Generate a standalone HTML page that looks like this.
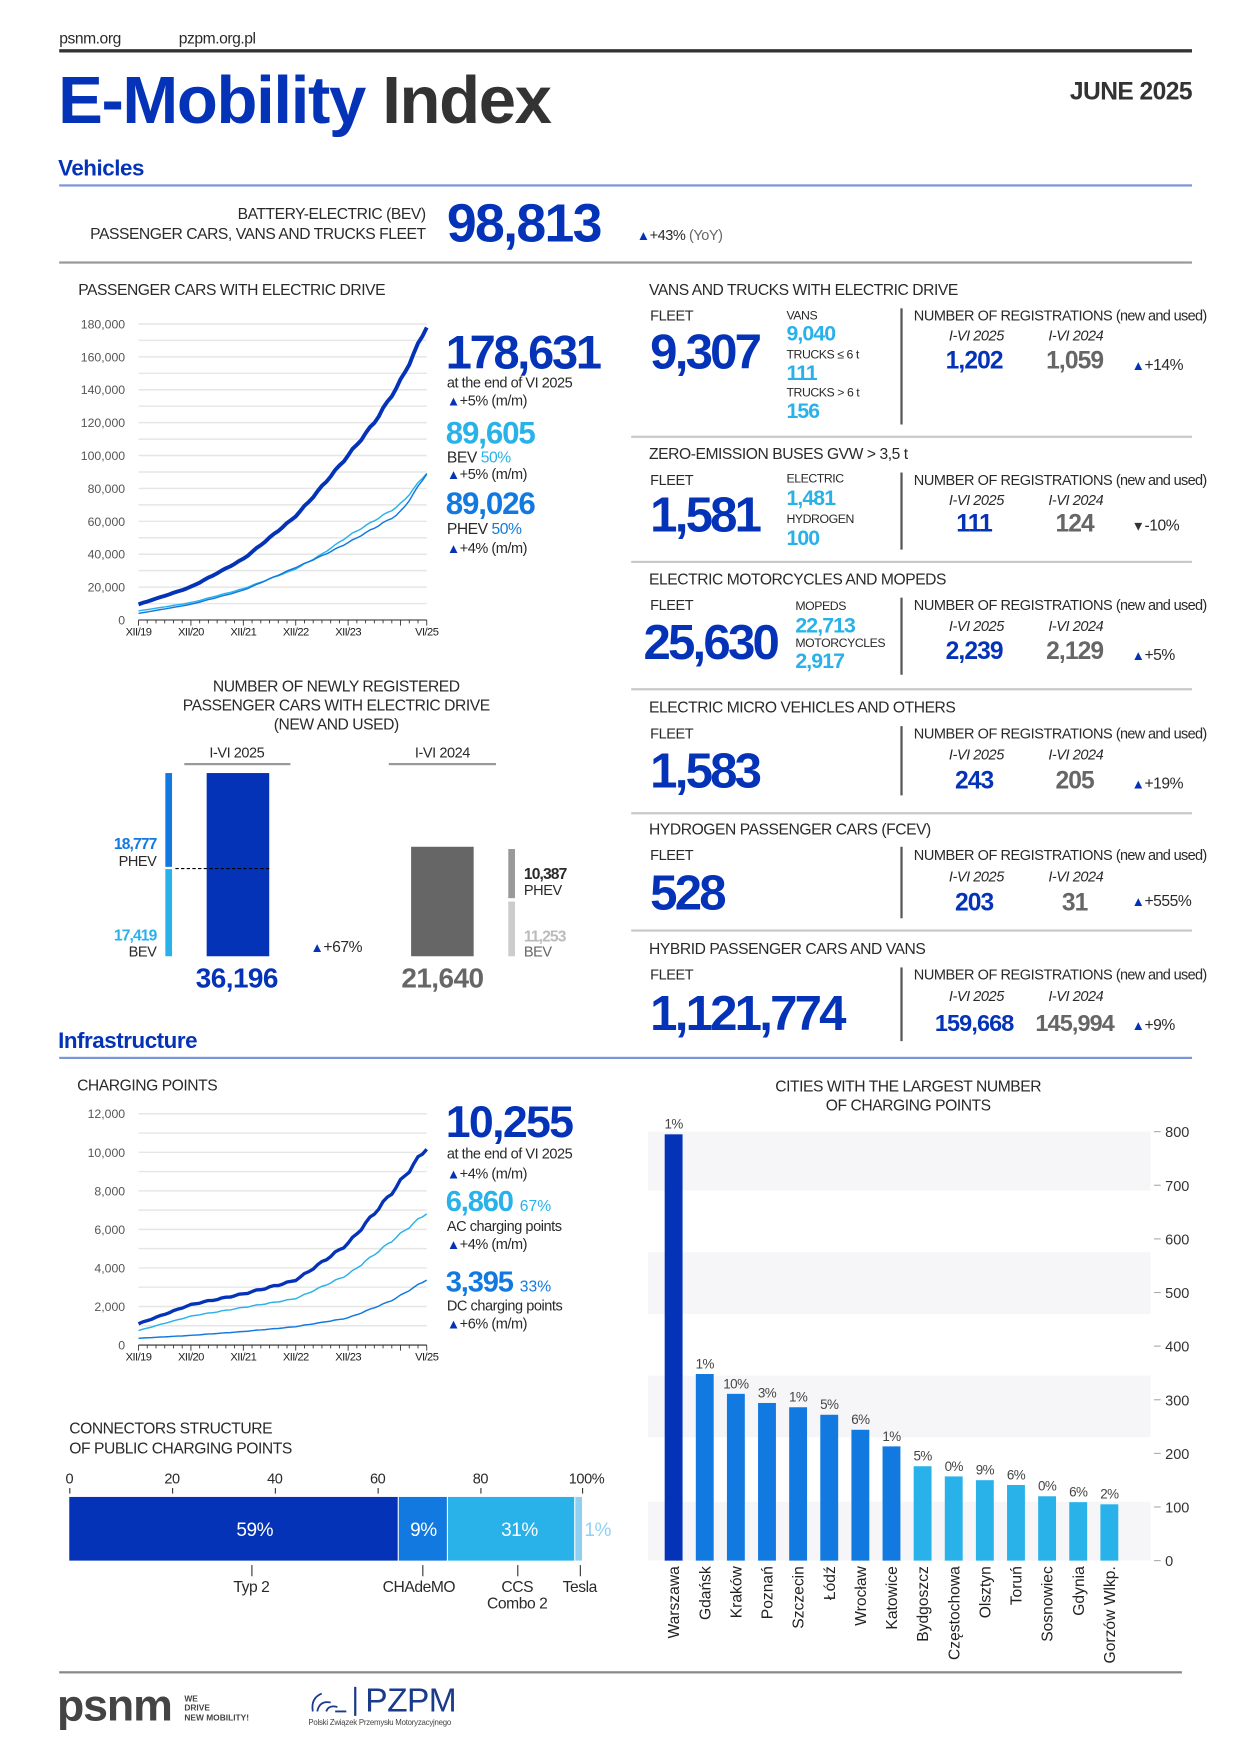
<!DOCTYPE html>
<html><head><meta charset="utf-8">
<style>
html,body{margin:0;padding:0;background:#fff;}
body{width:1240px;height:1754px;overflow:hidden;position:relative;}
#w{position:absolute;left:0;top:0;width:1110px;height:1570px;transform:scale(1.11712);transform-origin:0 0;font-family:"Liberation Sans",sans-serif;color:#2a2a2a;}
.t{position:absolute;white-space:nowrap;line-height:1;letter-spacing:-0.4px;}
.b{font-weight:bold;}
.blue{color:#0433b8;}
.mid{color:#1179e0;}
.lt{color:#29b1ea;}
.gr{color:#666;}
.hl{position:absolute;height:2px;background:#c9c9c9;}
.vl{position:absolute;width:1.5px;background:#555;}
.num{font-weight:bold;letter-spacing:-2.5px;}
.it{font-style:italic;}
.tri{font-size:12px;color:#0433b8;}
</style></head><body><div id="w">

<div class="t" style="left:53px;top:27px;font-size:14px;">psnm.org</div>
<div class="t" style="left:160px;top:27px;font-size:14px;">pzpm.org.pl</div>
<div style="position:absolute;left:53px;top:44px;width:1014px;height:3px;background:#333"></div>
<div class="t b" style="left:52px;top:60px;font-size:60px;letter-spacing:-1.2px;"><span class="blue">E-Mobility</span> <span style="color:#333">Index</span></div>
<div class="t b" style="right:43px;top:71px;font-size:22px;color:#333;letter-spacing:-0.5px;">JUNE 2025</div>

<div class="t b blue" style="left:52px;top:141px;font-size:20px;">Vehicles</div>
<div style="position:absolute;left:53px;top:165px;width:1014px;height:2px;background:#7b95dc"></div>
<div class="t" style="right:729px;top:184px;font-size:14px;text-align:right;">BATTERY-ELECTRIC (BEV)</div>
<div class="t" style="right:729px;top:202px;font-size:14px;text-align:right;">PASSENGER CARS, VANS AND TRUCKS FLEET</div>
<div class="t num blue" style="left:400px;top:177px;font-size:48px;letter-spacing:-1.5px;">98,813</div>
<div class="t" style="left:570px;top:204px;font-size:13px;"><span class="tri">▲</span>+43% <span class="gr">(YoY)</span></div>
<div style="position:absolute;left:53px;top:234px;width:1014px;height:2px;background:#999"></div>

<div class="t" style="left:70px;top:252px;font-size:14px;">PASSENGER CARS WITH ELECTRIC DRIVE</div>
<svg id="pc" style="position:absolute;left:0;top:0" width="560" height="600"></svg>
<div class="t num blue" style="left:399px;top:295px;font-size:42px;letter-spacing:-2px;">178,631</div>
<div class="t" style="left:400px;top:336px;font-size:13px;">at the end of VI 2025</div>
<div class="t" style="left:400px;top:352px;font-size:13px;"><span class="tri">▲</span>+5% (m/m)</div>
<div class="t num lt" style="left:399px;top:374px;font-size:28px;letter-spacing:-1px;">89,605</div>
<div class="t" style="left:400px;top:402px;font-size:14px;">BEV <span class="lt">50%</span></div>
<div class="t" style="left:400px;top:418px;font-size:13px;"><span class="tri">▲</span>+5% (m/m)</div>
<div class="t num mid" style="left:399px;top:437px;font-size:28px;letter-spacing:-1px;">89,026</div>
<div class="t" style="left:400px;top:466px;font-size:14px;">PHEV <span class="mid">50%</span></div>
<div class="t" style="left:400px;top:484px;font-size:13px;"><span class="tri">▲</span>+4% (m/m)</div>

<div class="t" style="left:151px;width:300px;text-align:center;top:607px;font-size:14px;">NUMBER OF NEWLY REGISTERED</div>
<div class="t" style="left:151px;width:300px;text-align:center;top:624px;font-size:14px;">PASSENGER CARS WITH ELECTRIC DRIVE</div>
<div class="t" style="left:151px;width:300px;text-align:center;top:641px;font-size:14px;">(NEW AND USED)</div>
<div class="t" style="left:162px;width:100px;text-align:center;top:667px;font-size:13px;">I-VI 2025</div>
<div style="position:absolute;left:165px;top:683px;width:95px;height:2px;background:#999"></div>
<div class="t" style="left:346px;width:100px;text-align:center;top:667px;font-size:13px;">I-VI 2024</div>
<div style="position:absolute;left:348px;top:683px;width:96px;height:2px;background:#999"></div>
<div style="position:absolute;left:185px;top:692px;width:56px;height:164px;background:#0433b8"></div>
<div style="position:absolute;left:148px;top:692px;width:6px;height:84px;background:#1179e0"></div>
<div style="position:absolute;left:148px;top:778px;width:6px;height:78px;background:#29b1ea"></div>
<div style="position:absolute;left:157px;top:777px;width:84px;border-top:1px dashed #000"></div>
<div class="t b mid" style="right:970px;top:748px;font-size:14px;letter-spacing:-0.8px;">18,777</div>
<div class="t" style="right:970px;top:764px;font-size:13px;">PHEV</div>
<div class="t b lt" style="right:970px;top:830px;font-size:14px;letter-spacing:-0.8px;">17,419</div>
<div class="t" style="right:970px;top:845px;font-size:13px;">BEV</div>
<div class="t num blue" style="left:162px;width:100px;text-align:center;top:864px;font-size:25px;letter-spacing:-0.5px;">36,196</div>
<div class="t" style="left:278px;top:840px;font-size:14px;"><span class="tri">▲</span>+67%</div>
<div style="position:absolute;left:368px;top:758px;width:56px;height:98px;background:#666"></div>
<div style="position:absolute;left:455px;top:760px;width:6px;height:44px;background:#999"></div>
<div style="position:absolute;left:455px;top:807px;width:6px;height:49px;background:#ccc"></div>
<div class="t b" style="left:469px;top:775px;font-size:14px;letter-spacing:-0.8px;">10,387</div>
<div class="t" style="left:469px;top:790px;font-size:13px;">PHEV</div>
<div class="t b" style="left:469px;top:831px;font-size:14px;color:#bbb;letter-spacing:-0.8px;">11,253</div>
<div class="t gr" style="left:469px;top:845px;font-size:13px;">BEV</div>
<div class="t num gr" style="left:346px;width:100px;text-align:center;top:864px;font-size:25px;letter-spacing:-0.5px;">21,640</div>

<div id="rp"></div>

<div class="t b blue" style="left:52px;top:922px;font-size:20px;">Infrastructure</div>
<div style="position:absolute;left:53px;top:946px;width:1014px;height:2px;background:#7b95dc"></div>
<div class="t" style="left:69px;top:964px;font-size:14px;">CHARGING POINTS</div>
<svg id="cp" style="position:absolute;left:0;top:0" width="560" height="1300"></svg>
<div class="t num blue" style="left:399px;top:985px;font-size:40px;letter-spacing:-1.5px;">10,255</div>
<div class="t" style="left:400px;top:1026px;font-size:13px;">at the end of VI 2025</div>
<div class="t" style="left:400px;top:1044px;font-size:13px;"><span class="tri">▲</span>+4% (m/m)</div>
<div class="t num lt" style="left:399px;top:1062px;font-size:26px;letter-spacing:-1px;">6,860 <span style="font-size:14px;font-weight:normal;letter-spacing:0">67%</span></div>
<div class="t" style="left:400px;top:1091px;font-size:13px;">AC charging points</div>
<div class="t" style="left:400px;top:1107px;font-size:13px;"><span class="tri">▲</span>+4% (m/m)</div>
<div class="t num mid" style="left:399px;top:1134px;font-size:26px;letter-spacing:-1px;">3,395 <span style="font-size:14px;font-weight:normal;letter-spacing:0">33%</span></div>
<div class="t" style="left:400px;top:1162px;font-size:13px;">DC charging points</div>
<div class="t" style="left:400px;top:1178px;font-size:13px;"><span class="tri">▲</span>+6% (m/m)</div>

<div class="t" style="left:62px;top:1271px;font-size:14px;">CONNECTORS STRUCTURE</div>
<div class="t" style="left:62px;top:1289px;font-size:14px;">OF PUBLIC CHARGING POINTS</div>
<div id="cn"></div>

<div class="t" style="left:663px;width:300px;text-align:center;top:965px;font-size:14px;">CITIES WITH THE LARGEST NUMBER</div>
<div class="t" style="left:663px;width:300px;text-align:center;top:982px;font-size:14px;">OF CHARGING POINTS</div>
<svg id="ct" style="position:absolute;left:0;top:0" width="1110" height="1500"></svg>

<div style="position:absolute;left:53px;top:1496px;width:1005px;height:2px;background:#888"></div>
<div class="t b" style="left:51px;top:1507px;font-size:40px;color:#444;letter-spacing:-1px;">psnm</div>
<div class="t b" style="left:165px;top:1517px;font-size:7.5px;color:#444;line-height:1.1;letter-spacing:0;">WE<br>DRIVE<br>NEW MOBILITY!</div>
<svg style="position:absolute;left:274px;top:1510px" width="45" height="30"><path d="M14 6 Q4 10 6 22 M10 22 Q12 12 22 14 M18 22 Q20 16 28 18 M26 22 L36 22" stroke="#1a3a8a" stroke-width="1.6" fill="none"/></svg>
<div style="position:absolute;left:317px;top:1510px;width:1.5px;height:26px;background:#1a3a8a"></div>
<div class="t" style="left:327px;top:1508px;font-size:30px;color:#1a3a8a;letter-spacing:-0.5px;">PZPM</div>
<div class="t" style="left:276px;top:1539px;font-size:7px;color:#444;letter-spacing:-0.2px;">Polski Związek Przemysłu Motoryzacyjnego</div>

</div>
<script>
var NS="http://www.w3.org/2000/svg";
function el(svg,tag,attrs,txt){var e=document.createElementNS(NS,tag);for(var k in attrs)e.setAttribute(k,attrs[k]);if(txt!=null)e.textContent=txt;svg.appendChild(e);return e;}
function interp(a,n){var out=[];var ks=Object.keys(a).map(Number).sort(function(x,y){return x-y});for(var i=0;i<=n;i++){for(var j=0;j<ks.length-1;j++){if(i>=ks[j]&&i<=ks[j+1]){var f=(i-ks[j])/(ks[j+1]-ks[j]);out.push(a[ks[j]]+(a[ks[j+1]]-a[ks[j]])*f);break;}}}return out;}
function smooth(v){var o=v.slice();for(var i=1;i<v.length-1;i++)o[i]=(v[i-1]+2*v[i]+v[i+1])/4;return o;}
function lineChart(svg,x0,x1,y0,y1,max,gstep,lstep,series){
  for(var g=0;g<=max;g+=gstep){var y=y0-(g/max)*(y0-y1);el(svg,'line',{x1:x0,x2:x1,y1:y,y2:y,stroke:'#e6e6e6','stroke-width':1.3});}
  for(var g=0;g<=max;g+=lstep){var y=y0-(g/max)*(y0-y1);el(svg,'text',{x:112,y:y+4,'text-anchor':'end','font-size':11,fill:'#555','font-family':'Liberation Sans'},g==0?'0':g.toLocaleString('en-US'));}
  el(svg,'line',{x1:x0,x2:x1,y1:y0,y2:y0,stroke:'#333','stroke-width':1});
  for(var i=0;i<=66;i+=2){var x=x0+i*(x1-x0)/66;el(svg,'line',{x1:x,x2:x,y1:y0,y2:y0+(i%12==0||i==66?5:3),stroke:'#333','stroke-width':0.8});}
  var labs=[['XII/19',0],['XII/20',12],['XII/21',24],['XII/22',36],['XII/23',48],['VI/25',66]];
  labs.forEach(function(l){var x=x0+l[1]*(x1-x0)/66;el(svg,'text',{x:x,y:y0+14,'text-anchor':'middle','font-size':10,fill:'#222','font-family':'Liberation Sans','letter-spacing':'-0.5'},l[0]);});
  series.forEach(function(s){var v=smooth(smooth(interp(s.a,66)));var pts=v.map(function(val,i){var w=Math.sin(i*1.7)*s.j*val;return (x0+i*(x1-x0)/66).toFixed(1)+','+(y0-((val+w)/max)*(y0-y1)).toFixed(1);}).join(' ');el(svg,'polyline',{points:pts,fill:'none',stroke:s.c,'stroke-width':s.w,'stroke-linejoin':'round'});});
}
lineChart(document.getElementById('pc'),124,382,555,290,180000,10000,20000,[
 {a:{0:5500,12:10500,24:19000,36:31000,42:40000,48:51000,60:70000,66:89605},c:'#29b1ea',w:1.3,j:0.006},
 {a:{0:4000,12:9500,24:18000,36:32000,42:39000,48:47000,60:65000,66:89026},c:'#1179e0',w:1.3,j:0.006},
 {a:{0:9500,12:20000,24:37000,36:63000,40:75000,48:100000,54:120000,60:145000,66:178631},c:'#0433b8',w:3.5,j:0.006}
]);
lineChart(document.getElementById('cp'),124,382,1204,997,12000,1000,2000,[
 {a:{0:750,12:1500,24:1950,36:2400,48:3650,58:5400,66:6860},c:'#29b1ea',w:1.3,j:0.01},
 {a:{0:350,12:500,24:700,36:950,48:1400,58:2300,66:3395},c:'#1179e0',w:1.3,j:0.01},
 {a:{0:1100,12:2100,24:2650,36:3350,48:5250,58:7900,66:10255},c:'#0433b8',w:3,j:0.012}
]);
var rp=document.getElementById('rp');var h='';
function T(x,y,fs,txt,cls,extra){return '<div class="t '+(cls||'')+'" style="left:'+x+'px;top:'+(y-fs/2)+'px;font-size:'+fs+'px;'+(extra||'')+'">'+txt+'</div>';}
function C(cx,y,fs,txt,cls,extra){return '<div class="t '+(cls||'')+'" style="left:'+(cx-60)+'px;width:120px;text-align:center;top:'+(y-fs/2)+'px;font-size:'+fs+'px;'+(extra||'')+'">'+txt+'</div>';}
var panels=[
 {title:'VANS AND TRUCKS WITH ELECTRIC DRIVE',ty:259,fy:282,big:'9,307',bx:582,by:316,subs:[[704,283,'VANS',0],[704,299,'9,040',1],[704,318,'TRUCKS ≤ 6 t',0],[704,334,'111',1],[704,352,'TRUCKS &gt; 6 t',0],[704,368,'156',1]],vl:[276,380],ry:[282,300,323],a:'1,202',b:'1,059',ch:'▲+14%',chy:326},
 {title:'ZERO-EMISSION BUSES <span style="font-weight:normal">GVW &gt; 3,5 t</span>',ty:406,fy:429,big:'1,581',bx:582,by:462,subs:[[704,429,'ELECTRIC',0],[704,446,'1,481',1],[704,465,'HYDROGEN',0],[704,482,'100',1]],vl:[423,492],ry:[429,447,469],a:'111',b:'124',ch:'▼-10%',chy:470},
 {title:'ELECTRIC MOTORCYCLES AND MOPEDS',ty:518,fy:541,big:'25,630',bx:576,by:576,subs:[[712,543,'MOPEDS',0],[712,560,'22,713',1],[712,576,'MOTORCYCLES',0],[712,592,'2,917',1]],vl:[535,604],ry:[541,560,583],a:'2,239',b:'2,129',ch:'▲+5%',chy:586},
 {title:'ELECTRIC MICRO VEHICLES AND OTHERS',ty:633,fy:656,big:'1,583',bx:582,by:691,subs:[],vl:[650,712],ry:[656,675,699],a:'243',b:'205',ch:'▲+19%',chy:701},
 {title:'HYDROGEN PASSENGER CARS (FCEV)',ty:742,fy:765,big:'528',bx:582,by:800,subs:[],vl:[758,822],ry:[765,784,808],a:'203',b:'31',ch:'▲+555%',chy:806},
 {title:'HYBRID PASSENGER CARS AND VANS',ty:849,fy:872,big:'1,121,774',bx:582,by:908,subs:[],vl:[866,932],ry:[872,891,916],a:'159,668',b:'145,994',ch:'▲+9%',chy:917}
];
panels.forEach(function(p){
 h+=T(581,p.ty,14,p.title,'');
 h+=T(582,p.fy,13,'FLEET','');
 h+=T(p.bx,p.by,44,p.big,'num blue','letter-spacing:-2.5px;');
 p.subs.forEach(function(s){h+=s[3]?T(s[0],s[1],19,s[2],'b lt','letter-spacing:-0.8px;'):T(s[0],s[1],11,s[2],'');});
 h+='<div class="vl" style="left:806px;top:'+p.vl[0]+'px;height:'+(p.vl[1]-p.vl[0])+'px"></div>';
 h+=T(818,p.ry[0],13,'NUMBER OF REGISTRATIONS <span style="letter-spacing:-0.6px">(new and used)</span>','');
 h+=C(874,p.ry[1],13,'I-VI 2025','it');h+=C(963,p.ry[1],13,'I-VI 2024','it');
 var fs=p.a.length>5?21:22;
 h+=C(872,p.ry[2],fs,p.a,'b blue','letter-spacing:-0.8px;');h+=C(962,p.ry[2],fs,p.b,'b gr','letter-spacing:-0.8px;');
 var up=p.ch[0]=='▲';h+=T(1013,p.chy,14,'<span style="font-size:12px;color:'+(up?'#0433b8':'#333')+'">'+p.ch[0]+'</span>'+p.ch.slice(1),'');
});
[390,502,616,727,832].forEach(function(y){h+='<div class="hl" style="left:565px;top:'+y+'px;width:502px"></div>';});
rp.innerHTML=h;
var cn=document.getElementById('cn');var g='';
[[0,62,'0'],[20,154,'20'],[40,246,'40'],[60,338,'60'],[80,430,'80'],[100,525,'100%']].forEach(function(a){g+=C(a[1],1323,13,a[2],'');g+='<div style="position:absolute;left:'+(a[0]==100?521:a[1])+'px;top:1332px;width:1px;height:5px;background:#333"></div>';});
var segs=[[62,357,'#0433b8'],[357,401,'#1179e0'],[401,515,'#29b1ea'],[515,522,'#8fd0f2']];
segs.forEach(function(s){g+='<div style="position:absolute;left:'+s[0]+'px;top:1340px;width:'+(s[1]-s[0]-1)+'px;height:57px;background:'+s[2]+'"></div>';});
g+=C(228,1369,17,'59%','','color:#fff');g+=C(379,1369,17,'9%','','color:#fff');g+=C(465,1369,17,'31%','','color:#fff');g+=C(535,1369,17,'1%','','color:#8fd0f2');
[[225,'Typ 2'],[378,'CHAdeMO'],[463,'CCS'],[519,'Tesla']].forEach(function(a){g+='<div style="position:absolute;left:'+a[0]+'px;top:1401px;width:1px;height:10px;background:#333"></div>';g+=C(a[0]-(a[1]=='CHAdeMO'?3:0),1420,14,a[1],'');});
g+=C(463,1435,14,'Combo 2','');
cn.innerHTML=g;
var ct=document.getElementById('ct');
var y0=1397,pp=0.48;
[[800,690],[575,460],[345,230],[110,0]].forEach(function(b){el(ct,'rect',{x:580,y:y0-b[0]*pp,width:450,height:(b[0]-b[1])*pp,fill:'#f6f6f8'});});
for(var v=0;v<=800;v+=100){var y=y0-v*pp;el(ct,'line',{x1:1033,x2:1039,y1:y,y2:y,stroke:'#aaa','stroke-width':1});el(ct,'text',{x:1043,y:y+5,'font-size':13,fill:'#333','font-family':'Liberation Sans'},String(v));}
var cities=[['Warszawa',795,'1%'],['Gdańsk',348,'1%'],['Kraków',311,'10%'],['Poznań',294,'3%'],['Szczecin',286,'1%'],['Łódź',272,'5%'],['Wrocław',244,'6%'],['Katowice',213,'1%'],['Bydgoszcz',176,'5%'],['Częstochowa',157,'0%'],['Olsztyn',150,'9%'],['Toruń',141,'6%'],['Sosnowiec',120,'0%'],['Gdynia',109,'6%'],['Gorzów Wlkp.',105,'2%']];
cities.forEach(function(c,i){var cx=603+i*27.86;var col=i==0?'#0433b8':(i<8?'#1179e0':'#29b1ea');var top=y0-c[1]*pp;
 el(ct,'rect',{x:cx-8,y:top,width:16,height:c[1]*pp,fill:col});
 el(ct,'text',{x:cx,y:top-5,'text-anchor':'middle','font-size':12,fill:'#444','font-family':'Liberation Sans','letter-spacing':'-0.5'},c[2]);
 el(ct,'text',{x:0,y:0,transform:'translate('+(cx+5)+','+(y0+5)+') rotate(-90)','text-anchor':'end','font-size':14,fill:'#222','font-family':'Liberation Sans'},c[0]);
});
</script>
</body></html>
